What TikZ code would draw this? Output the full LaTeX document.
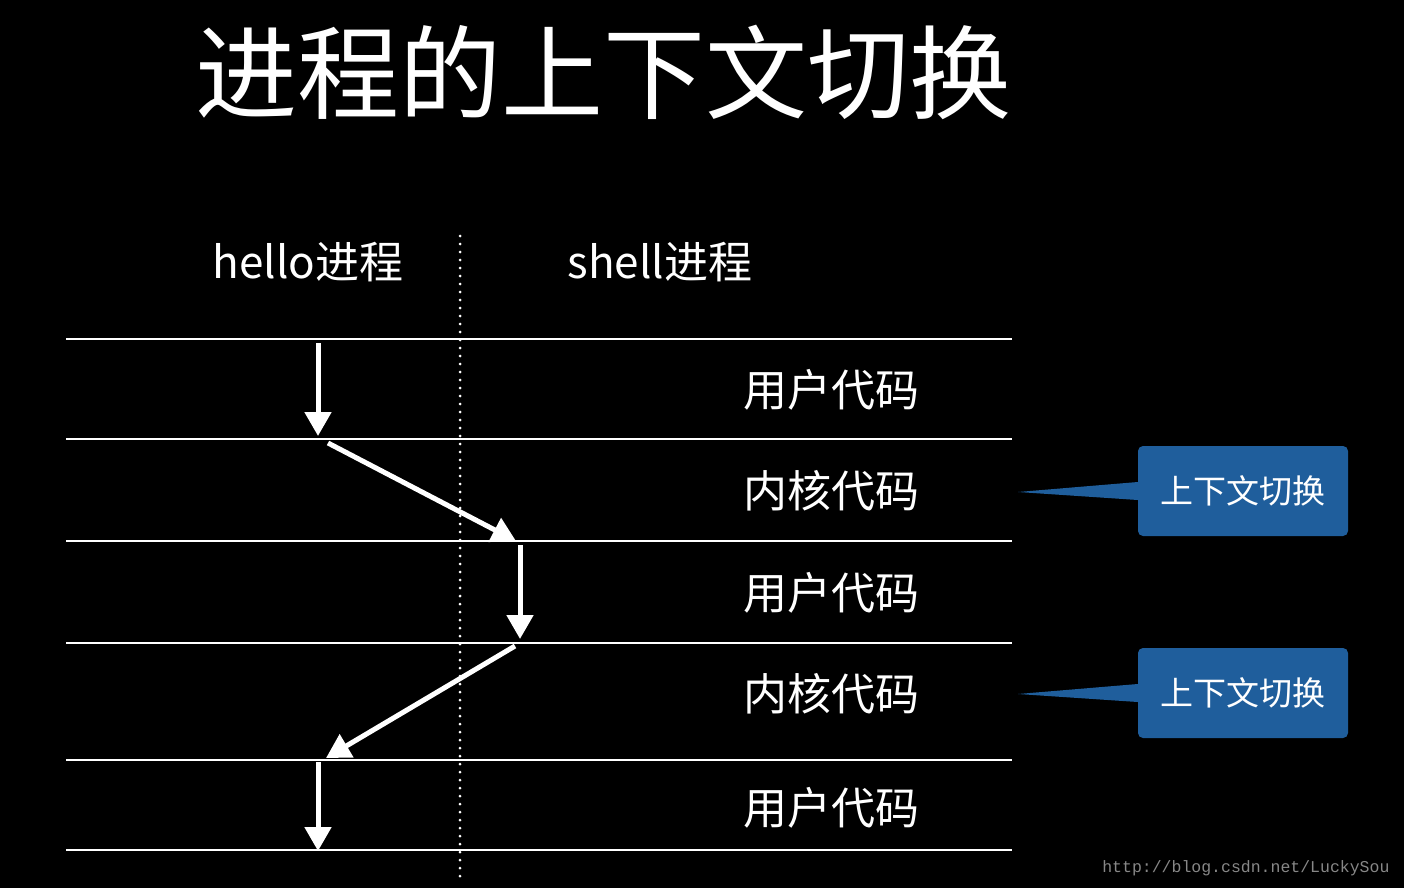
\documentclass[tikz,border=0pt]{standalone}
\usepackage{fontspec}
\setmainfont{Noto Sans CJK SC}
\newfontfamily\urlfont{Liberation Mono}
\usetikzlibrary{arrows.meta}
\definecolor{callblue}{RGB}{31,94,156}
\tikzset{
  rowline/.style={white, line width=2pt},
  flow/.style={white, line width=5pt, -{Triangle[width=26pt,length=24pt]}, shorten <=0pt},
  codelabel/.style={white, font=\fontsize{44}{44}\selectfont},
  callbox/.style={fill=callblue, rounded corners=5pt, minimum width=210pt, minimum height=90pt,
    text=white, font=\fontsize{33}{33}\selectfont, inner sep=0pt}
}
\begin{document}
\begin{tikzpicture}[x=1pt, y=-1pt]
    \fill[black] (0,0) rectangle (1404,888);
    \useasboundingbox (0,0) rectangle (1404,888);

    \node[white, font=\fontsize{102}{102}\selectfont] (title) at (603,72) {进程的上下文切换};

    \node[codelabel] (hello) at (308,262) {hello进程};
    \node[codelabel] (shell) at (660,262) {shell进程};

    % divider between the two processes
    \draw[white, line width=3pt, dash pattern=on 0pt off 8pt, line cap=round] (460,236) -- (460,876);

    \foreach \y in {339,439,541,643,760,850}
        \draw[rowline] (66,\y) -- (1012,\y);

    \node[codelabel] (u1) at (831,390) {用户代码};
    \node[codelabel] (k1) at (831,491) {内核代码};
    \node[codelabel] (u2) at (831,593) {用户代码};
    \node[codelabel] (k2) at (831,694) {内核代码};
    \node[codelabel] (u3) at (831,808) {用户代码};

    \coordinate (a1) at (318,343);
    \coordinate (b1) at (318,436);
    \coordinate (a2) at (328,443);
    \coordinate (b2) at (516,541);
    \coordinate (a3) at (520,545);
    \coordinate (b3) at (520,639);
    \coordinate (a4) at (515,646);
    \coordinate (b4) at (326,758);
    \coordinate (a5) at (318,762);
    \coordinate (b5) at (318,851);

    \draw[flow] (a1) -- (b1);
    \draw[flow] (a2) -- (b2);
    \draw[flow] (a3) -- (b3);
    \draw[flow] (a4) -- (b4);
    \draw[flow] (a5) -- (b5);

    % context switch callouts
    \coordinate (tip1) at (1018,492);
    \coordinate (tip2) at (1018,694);
    \node[callbox] (cs1) at (1243,491) {};
    \node[callbox] (cs2) at (1243,693) {};
    \fill[callblue] ([yshift=9pt]cs1.west) -- (tip1) -- ([yshift=-9pt]cs1.west) -- ++(10,0) -- ++(0,-18) -- cycle;
    \fill[callblue] ([yshift=9pt]cs2.west) -- (tip2) -- ([yshift=-9pt]cs2.west) -- ++(10,0) -- ++(0,-18) -- cycle;
    \node[text=white, font=\fontsize{33}{33}\selectfont] at (1243,491) {上下文切换};
    \node[text=white, font=\fontsize{33}{33}\selectfont] at (1243,693) {上下文切换};

    \node[text={rgb,255:red,135;green,135;blue,135}, font=\urlfont\fontsize{16.5}{16.5}\selectfont, anchor=east] (url) at (1393,868) {http://blog.csdn.net/LuckySou};
\end{tikzpicture}
\end{document}
